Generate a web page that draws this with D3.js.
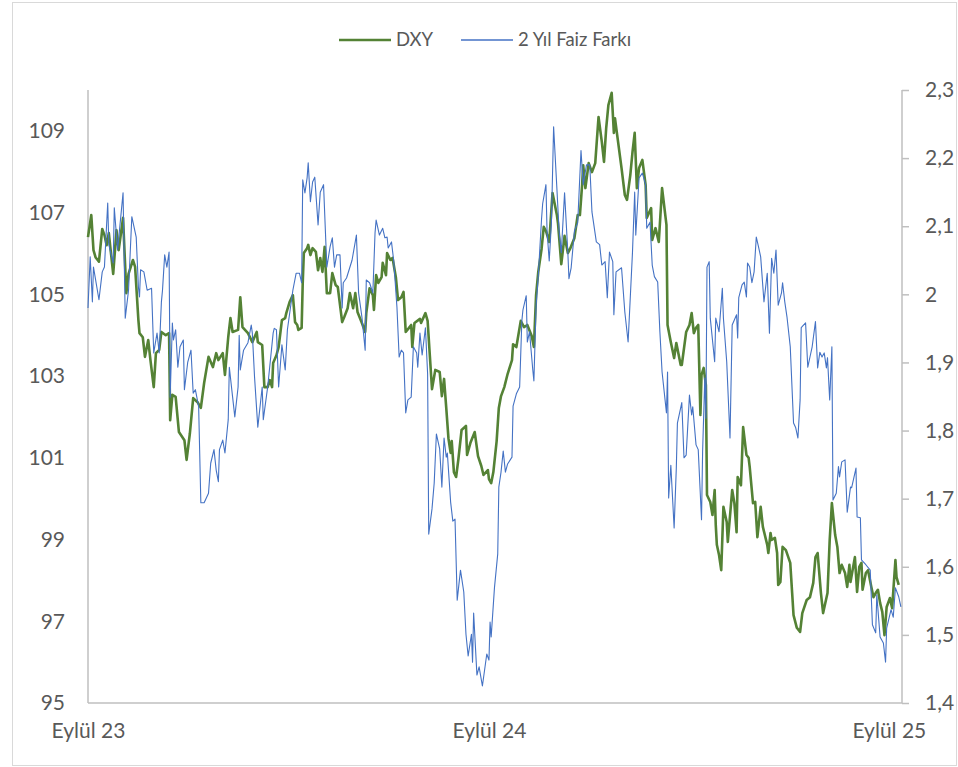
<!DOCTYPE html>
<html>
<head>
<meta charset="utf-8">
<script src="https://cdn.jsdelivr.net/npm/d3@7"></script>
<style>
  html, body { margin: 0; padding: 0; background: #ffffff; }
  svg { display: block; }
  text { font-family: Lato, "Liberation Sans", sans-serif; fill: #595959; }
</style>
</head>
<body>
<svg id="chart" width="958" height="767"></svg>
<script>
// ---------- DATA ----------
// Days counted from 1 September 2023
const seriesNames = ["DXY", "2 Yıl Faiz Farkı"];

const dxyDays = [
  0,3,5,7,10,13,15,17,19,23,
  26,28,32,35,37,41,43,46,47,50,
  52,55,57,60,62,65,67,71,74,75,
  77,80,83,88,90,93,96,100,103,106,
  110,114,117,119,123,125,128,130,132,137,
  139,141,146,150,154,155,159,161,164,166,
  168,169,172,174,177,180,181,184,187,189,
  191,192,195,196,197,200,201,203,205,208,
  210,212,214,216,218,221,223,226,228,232,
  234,237,239,241,242,244,246,250,253,254,
  257,260,261,263,265,268,269,272,273,276,
  278,281,283,286,288,290,293,295,296,298,
  303,304,308,310,312,314,317,321,323,325,
  327,329,331,332,334,336,338,341,345,346,
  349,353,356,359,361,365,366,368,370,373,
  375,377,380,383,387,388,391,395,398,401,
  405,407,409,411,414,416,418,421,424,428,
  429,432,435,438,440,444,447,449,451,452,
  454,457,460,463,466,469,471,473,475,478,
  480,481,483,487,490,492,495,497,499,501,
  503,506,509,510,514,515,518,521,524,528,
  529,532,535,537,541,542,546,549,551,553,
  555,557,559,560,562,564,565,568,570,572,
  573,574,576,578,580,583,584,588,590,592,
  593,596,598,601,603,604,607,609,611,614,
  616,620,621,623,624,627,629,630,632,634,
  637,641,644,647,650,652,656,659,662,664,
  666,669,671,675,677,679,682,684,686,688,
  691,693,695,696,700,702,704,706,707,710,
  712,715,717,719,721,723,725,727,729,732,
  734,737,738,740
];
const dxyValues = [
  106.4,106.94,106.08,105.9,105.8,106.6,106.45,106.2,106.5,105.5,
  106.57,106.08,106.87,105.03,105.5,105.84,105.67,104.37,104.05,103.95,
  103.47,103.88,103.39,102.73,103.56,103.64,104.08,104.0,104.05,101.92,
  102.54,102.49,101.63,101.43,100.95,101.6,102.46,102.36,102.22,102.83,
  103.47,103.22,103.56,103.39,103.56,103.03,103.95,104.42,104.08,104.13,
  104.93,104.2,104.05,103.83,104.08,103.83,103.76,102.73,102.73,102.9,
  102.73,103.32,103.51,103.71,104.37,104.42,104.54,104.81,104.98,104.32,
  104.25,104.13,104.18,105.28,106.01,106.13,106.21,105.96,106.13,106.04,
  105.59,105.89,105.55,106.16,105.03,105.03,105.52,105.23,105.18,104.32,
  104.45,104.66,105.03,104.79,104.66,105.03,104.57,104.3,104.08,104.54,
  105.15,104.98,104.62,105.47,105.28,105.42,105.77,105.47,106.01,105.84,
  105.89,105.42,104.86,104.93,105.06,104.08,104.18,104.25,103.71,104.3,
  104.4,104.3,104.54,104.35,103.51,102.68,103.15,103.1,102.51,102.93,
  102.22,101.48,101.12,101.41,100.65,100.53,100.95,101.68,101.78,101.07,
  101.36,101.63,101.04,100.8,100.58,100.7,100.48,100.38,100.65,101.41,
  102.22,102.51,102.73,103.05,103.39,103.78,103.71,104.35,104.2,104.25,
  103.98,103.71,104.98,105.55,106.11,106.65,106.55,106.28,107.48,106.94,
  106.74,105.74,106.43,106.01,106.11,106.38,106.94,106.94,107.67,108.16,
  107.6,108.21,107.99,108.21,109.34,108.73,108.24,109.07,109.63,109.93,
  108.95,109.31,108.9,108.09,107.43,107.31,107.92,108.48,108.95,107.6,
  108.09,108.29,107.67,106.87,107.11,106.33,106.62,106.28,107.6,106.7,
  104.25,103.83,103.44,103.81,103.27,103.27,104.08,104.25,104.54,104.05,
  104.18,104.25,102.05,103.03,103.2,102.78,100.09,99.92,99.6,100.21,
  99.36,98.87,98.62,98.25,99.8,99.43,98.94,100.21,99.89,99.18,
  100.53,100.33,101.75,101.07,101.0,100.77,99.89,99.92,99.06,99.8,
  99.31,98.87,98.67,99.16,98.99,99.04,98.67,97.89,97.96,98.82,
  98.74,98.43,97.15,96.84,96.74,97.2,97.52,97.59,97.94,98.57,
  98.67,97.69,97.2,97.69,98.99,99.89,99.11,98.82,98.18,98.38,
  98.18,97.84,98.38,97.96,98.57,97.72,98.33,98.43,97.77,98.18,
  98.25,97.84,97.59,97.69,97.77,97.45,97.23,96.66,97.35,97.57,
  97.32,98.5,98.08,97.89
];

const spreadDays = [
  0,2,4,5,10,13,15,18,19,23,
  24,27,32,34,37,40,44,46,47,48,
  51,54,58,60,63,65,67,68,70,72,
  74,75,77,78,80,82,84,87,88,91,
  94,96,98,101,103,106,110,112,115,117,
  119,120,123,125,128,129,132,134,137,138,
  139,142,146,149,150,152,155,159,160,164,
  169,170,172,174,177,180,182,187,190,193,
  195,196,198,200,201,203,205,207,210,212,
  215,218,221,223,225,227,230,232,233,236,
  241,245,247,250,253,254,257,260,262,263,
  266,269,271,273,274,277,279,282,284,286,
  288,290,292,295,297,300,301,303,305,308,
  310,311,314,316,318,321,323,325,327,328,
  331,333,335,337,340,343,345,347,350,351,
  352,355,357,360,364,366,367,368,371,374,
  375,377,379,381,383,387,388,391,394,396,
  397,400,401,403,406,407,409,411,414,415,
  418,419,421,423,425,428,430,432,435,438,
  439,441,444,447,450,452,455,458,460,464,
  467,469,472,474,476,479,480,482,487,490,
  493,497,499,500,503,506,509,510,513,515,
  517,520,522,524,528,529,530,532,535,537,
  538,542,544,546,549,551,552,555,557,560,
  561,563,564,565,567,568,572,573,576,579,
  580,583,586,588,592,593,594,597,599,601,
  602,604,606,608,610,612,614,617,620,622,
  624,626,628,630,633,634,636,638,641,644,
  646,648,650,651,655,657,659,661,664,666,
  668,670,672,674,675,677,679,680,683,685,
  686,688,691,693,696,697,701,702,705,706,
  710,714,716,719,720,723,726,728,729,733,
  735,737,740,742
];
const spreadValues = [
  1.98,2.055,1.989,2.04,1.992,2.033,2.04,2.134,2.073,2.046,
  2.127,2.065,2.149,1.965,2.006,2.114,2.084,2.011,1.996,2.036,
  2.033,2.006,2.009,1.914,1.943,1.914,1.989,2.006,2.058,2.04,
  2.062,1.849,1.958,1.933,1.948,1.893,1.923,1.933,1.86,1.9,
  1.918,1.855,1.86,1.835,1.694,1.694,1.708,1.752,1.772,1.742,
  1.725,1.772,1.786,1.767,1.816,1.893,1.849,1.82,1.864,1.94,
  1.889,1.918,1.929,1.955,1.943,1.879,1.805,1.864,1.816,1.864,
  1.943,1.95,1.948,1.864,1.926,1.889,1.948,2.006,2.031,2.031,
  2.017,2.168,2.149,2.171,2.193,2.136,2.165,2.172,2.102,2.15,
  2.161,2.04,2.07,2.083,2.04,2.058,2.058,1.98,2.017,2.024,
  2.05,2.087,2.002,1.967,1.918,2.021,2.017,2.002,2.09,2.109,
  2.087,2.097,2.083,2.084,2.068,2.077,2.05,1.981,1.908,1.918,
  1.914,1.826,1.845,1.849,1.923,1.914,1.893,1.943,1.911,1.951,
  1.883,1.648,1.685,1.723,1.795,1.773,1.717,1.789,1.761,1.767,
  1.695,1.667,1.67,1.551,1.595,1.563,1.501,1.469,1.501,1.46,
  1.532,1.441,1.453,1.425,1.472,1.463,1.519,1.497,1.569,1.619,
  1.717,1.739,1.77,1.739,1.751,1.761,1.836,1.854,1.864,1.961,
  1.977,1.998,1.93,1.945,1.889,1.873,1.983,2.027,2.111,2.133,
  2.161,2.093,2.049,2.105,2.246,2.155,2.093,2.061,2.149,2.061,
  2.023,2.039,2.093,2.105,2.211,2.161,2.19,2.19,2.121,2.077,
  2.073,2.043,2.048,1.995,2.062,2.048,1.97,2.033,2.039,1.974,
  1.93,2.062,2.15,2.087,2.171,2.178,2.161,2.097,2.106,2.043,
  2.026,2.018,1.945,1.886,1.826,1.886,1.701,1.749,1.657,1.745,
  1.811,1.841,1.76,1.764,1.852,1.823,1.835,1.779,1.772,1.669,
  1.769,1.877,1.818,2.04,2.048,1.965,1.901,1.965,1.945,2.009,
  1.965,1.901,1.789,1.955,1.97,1.936,1.995,2.014,2.018,1.996,
  2.046,2.04,2.017,2.033,2.084,2.07,2.055,1.989,2.031,1.943,
  2.053,2.031,2.065,1.984,2.002,2.017,1.989,1.967,1.923,1.811,
  1.804,1.789,1.845,1.951,1.958,1.893,1.908,1.923,1.96,1.892,
  1.915,1.908,1.914,1.892,1.907,1.845,1.923,1.698,1.708,1.747,
  1.732,1.754,1.757,1.68,1.717,1.716,1.745,1.673,1.672,1.61,
  1.603,1.595,1.515,1.503,1.559,1.497,1.488,1.46,1.51,1.537,
  1.526,1.569,1.556,1.541
];

const xTickDates = ["2023-09-01", "2024-09-01", "2025-09-01"];
const xTickLabels = ["Eylül 23", "Eylül 24", "Eylül 25"];
const leftTickValues = [95, 97, 99, 101, 103, 105, 107, 109];
const rightTickValues = [1.4, 1.5, 1.6, 1.7, 1.8, 1.9, 2.0, 2.1, 2.2, 2.3];
const rightTickLabels = ["1,4","1,5","1,6","1,7","1,8","1,9","2","2,1","2,2","2,3"];

// ---------- CHART ----------
const W = 958, H = 767;
const plot = { left: 88, right: 902, top: 90, bottom: 703 };
const startDate = new Date(2023, 8, 1);
const endDate = new Date(2025, 8, 13);
const toDate = d => d3.timeDay.offset(startDate, d);
const parse = d3.timeParse("%Y-%m-%d");

const svg = d3.select("#chart");

// outer frame
svg.append("rect")
  .attr("x", 12.5).attr("y", 2.5)
  .attr("width", W - 14).attr("height", H - 4)
  .attr("fill", "#ffffff").attr("stroke", "#D9D9D9").attr("stroke-width", 1);

const x = d3.scaleTime().domain([startDate, endDate]).range([plot.left, plot.right]);
const yL = d3.scaleLinear().domain([95, 110]).range([plot.bottom, plot.top]);
const yR = d3.scaleLinear().domain([1.4, 2.3]).range([plot.bottom, plot.top]);

// left axis
const gL = svg.append("g").attr("transform", `translate(${plot.left},0)`)
  .call(d3.axisLeft(yL).tickValues(leftTickValues).tickSize(0).tickPadding(23).tickFormat(d3.format("d")));
// right axis
const gR = svg.append("g").attr("transform", `translate(${plot.right},0)`)
  .call(d3.axisRight(yR).tickValues(rightTickValues).tickSize(7).tickPadding(16)
    .tickFormat((d, i) => rightTickLabels[i]));
// bottom axis
const gB = svg.append("g").attr("transform", `translate(0,${plot.bottom})`)
  .call(d3.axisBottom(x).tickValues(xTickDates.map(parse)).tickSize(0).tickPadding(20)
    .tickFormat((d, i) => xTickLabels[i]));

[gL, gR, gB].forEach(g => {
  g.select(".domain").attr("stroke", "#BFBFBF").attr("stroke-width", 1.5);
  g.selectAll(".tick line").attr("stroke", "#BFBFBF").attr("stroke-width", 1.5);
  g.selectAll(".tick text").attr("fill", "#595959")
    .style("font-family", "Lato, 'Liberation Sans', sans-serif").style("font-size", "21px");
});
gR.select(".domain").attr("d", `M0,${plot.bottom}V${plot.top}`);
gL.select(".domain").attr("d", `M0,${plot.bottom}V${plot.top}`);
gB.select(".domain").attr("d", `M${plot.left},0H${plot.right}`);

// series
const dxyData = d3.zip(dxyDays, dxyValues);
const spreadData = d3.zip(spreadDays, spreadValues);

const lineL = d3.line().x(d => x(toDate(d[0]))).y(d => yL(d[1]));
const lineR = d3.line().x(d => x(toDate(d[0]))).y(d => yR(d[1]));

svg.append("path").datum(dxyData)
  .attr("d", lineL).attr("fill", "none")
  .attr("stroke", "#548235").attr("stroke-width", 2.6).attr("stroke-linejoin", "round");

svg.append("path").datum(spreadData)
  .attr("d", lineR).attr("fill", "none")
  .attr("stroke", "#4472C4").attr("stroke-width", 1.1).attr("stroke-linejoin", "round");

// legend
const legend = [
  { name: seriesNames[0], color: "#548235", width: 2.6, x0: 339 },
  { name: seriesNames[1], color: "#4472C4", width: 1.3, x0: 461 }
];
const lg = svg.append("g");
legend.forEach(l => {
  lg.append("line").attr("x1", l.x0).attr("x2", l.x0 + 52).attr("y1", 40).attr("y2", 40)
    .attr("stroke", l.color).attr("stroke-width", l.width);
  lg.append("text").attr("x", l.x0 + 57).attr("y", 40).attr("dy", "0.35em")
    .style("font-size", "18.5px").attr("fill", "#595959").text(l.name);
});
</script>
</body>
</html>
